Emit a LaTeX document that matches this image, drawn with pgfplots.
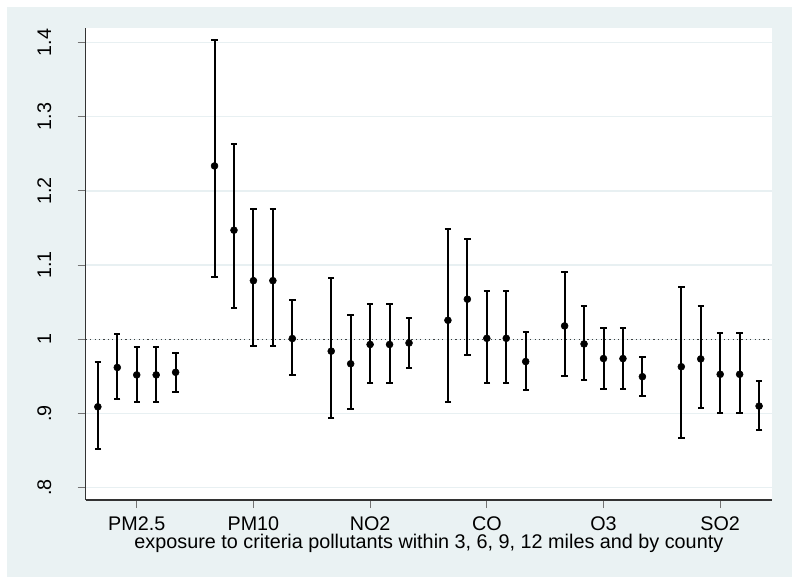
\documentclass[border=0pt]{standalone}
\usepackage{fontspec}
\setmainfont{Liberation Sans}
\usepackage{pgfplots}
\usepackage{pgfplotstable}
\pgfplotsset{compat=1.18}
\definecolor{panel}{RGB}{234,242,243}
\definecolor{gridc}{RGB}{232,240,242}
\pgfplotstableread{
x y lo hi
-0.3333 0.909 0.852 0.970
-0.1667 0.962 0.920 1.0075
0 0.952 0.9155 0.990
0.1667 0.952 0.9155 0.990
0.3333 0.9555 0.929 0.982
0.6667 1.2336 1.084 1.403
0.8333 1.147 1.042 1.263
1 1.079 0.9905 1.176
1.1667 1.079 0.9905 1.176
1.3333 1.001 0.9515 1.053
1.6667 0.984 0.894 1.083
1.8333 0.967 0.906 1.033
2 0.993 0.9415 1.047
2.1667 0.993 0.9415 1.047
2.3333 0.995 0.961 1.029
2.6667 1.0256 0.9155 1.148
2.8333 1.054 0.979 1.135
3 1.0013 0.9415 1.0655
3.1667 1.0013 0.9415 1.0655
3.3333 0.970 0.931 1.010
3.6667 1.018 0.951 1.090
3.8333 0.9937 0.945 1.045
4 0.974 0.9334 1.0148
4.1667 0.974 0.9334 1.0148
4.3333 0.9496 0.923 0.976
4.6667 0.963 0.8666 1.071
4.8333 0.9735 0.907 1.0445
5 0.9528 0.900 1.008
5.1667 0.9528 0.900 1.008
5.3333 0.910 0.8777 0.9438
}\data
\begin{document}
\begin{tikzpicture}
\path[use as bounding box, fill=white] (0pt,0pt) rectangle (600pt,439.5pt);
\fill[panel] (5.6pt,6.75pt) rectangle (594pt,433.9pt);
\begin{axis}[
  at={(64.3pt,64.5pt)}, anchor=south west,
  scale only axis, width=514.7pt, height=354pt,
  xmin=-0.437, xmax=5.444, ymin=0.7834, ymax=1.4195,
  axis x line*=bottom, axis y line*=left,
  axis line style={-, black!80, line width=0.8pt},
  axis background/.style={fill=white},
  tick align=outside, major tick length=6pt,
  tick style={black!55, line width=0.8pt},
  xtick={0,1,2,3,4,5},
  xticklabels={PM2.5,PM10,NO2,CO,O3,SO2},
  ytick={0.8,0.9,1,1.1,1.2,1.3,1.4},
  yticklabels={.8,.9,1,1.1,1.2,1.3,1.4},
  ymajorgrids, grid style={gridc, line width=1pt},
  tick label style={font=\fontsize{14.8}{16}\selectfont},
  xticklabel style={anchor=base, inner sep=0pt},
  xticklabel shift=17pt,
  yticklabel style={rotate=90, anchor=base, inner sep=0pt},
  yticklabel shift=20pt,
  xlabel={exposure to criteria pollutants within 3, 6, 9, 12 miles and by county},
  xlabel style={font=\fontsize{14.85}{16}\selectfont, at={(axis description cs:0.5,0)}, anchor=base, yshift=-36.2pt, inner sep=0pt},
  clip=false,
]
\addplot[black!75, dotted, line width=0.9pt, dash pattern=on 0.9pt off 2.4pt] coordinates {(-0.437,1) (5.444,1)};
\addplot[only marks, mark=*, mark size=2.6pt, black,
  error bars/.cd, y dir=both, y explicit,
  error bar style={line width=1.5pt, black},
  error mark options={line width=1.5pt, black, mark size=2.4pt, rotate=90}]
  table[x=x, y=y, y error plus expr=\thisrow{hi}-\thisrow{y}, y error minus expr=\thisrow{y}-\thisrow{lo}] {\data};
\end{axis}
\end{tikzpicture}
\end{document}
